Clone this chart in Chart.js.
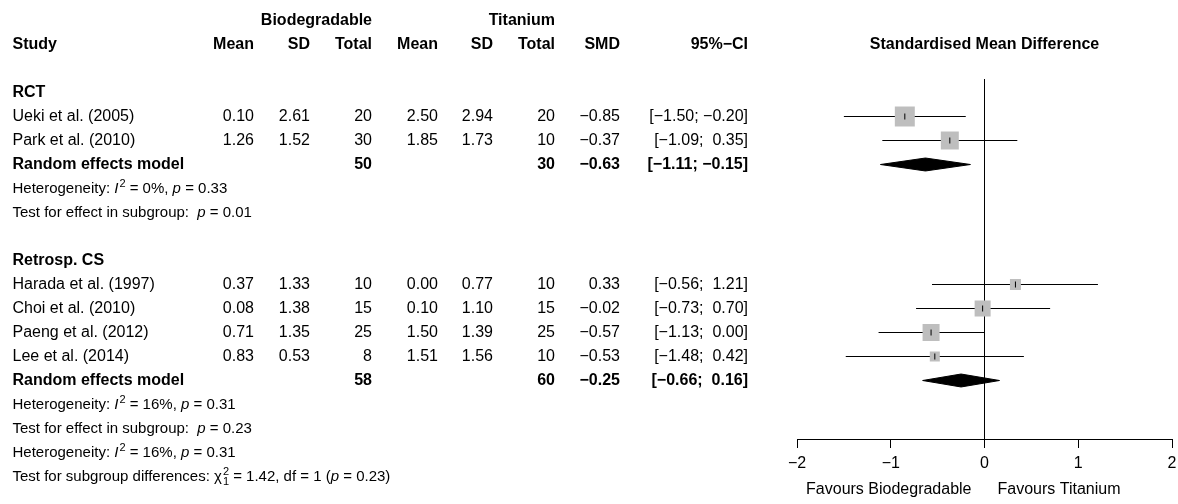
<!DOCTYPE html>
<html>
<head>
<meta charset="utf-8">
<script src="https://cdn.jsdelivr.net/npm/chart.js@4.4.1/dist/chart.umd.min.js"></script>
<style>
  html, body { margin: 0; padding: 0; background: #fff; overflow: hidden; }
  canvas { display: block; }
</style>
</head>
<body>
<canvas id="forest" width="1178" height="504"></canvas>
<script>
// study level data
const studies = ['Ueki et al. (2005)', 'Park et al. (2010)', 'Harada et al. (1997)', 'Choi et al. (2010)', 'Paeng et al. (2012)', 'Lee et al. (2014)'];
const studyGroup = [0, 0, 1, 1, 1, 1];
const bioMean = [0.10, 1.26, 0.37, 0.08, 0.71, 0.83];
const bioSD = [2.61, 1.52, 1.33, 1.38, 1.35, 0.53];
const bioN = [20, 30, 10, 15, 25, 8];
const tiMean = [2.50, 1.85, 0.00, 0.10, 1.50, 1.51];
const tiSD = [2.94, 1.73, 0.77, 1.10, 1.39, 1.56];
const tiN = [20, 10, 10, 15, 25, 10];
const smd = [-0.85, -0.37, 0.33, -0.02, -0.57, -0.53];
const ciLow = [-1.50, -1.09, -0.56, -0.73, -1.13, -1.48];
const ciHigh = [-0.20, 0.35, 1.21, 0.70, 0.00, 0.42];
const weights = [26.8, 21.7, 8.1, 17.2, 19.4, 6.7]; // % weight (estimated from square sizes)

// subgroup results
const groupNames = ['RCT', 'Retrosp. CS'];
const remBioN = [50, 58];
const remTiN = [30, 60];
const remSMD = [-0.63, -0.25];
const remLow = [-1.11, -0.66];
const remHigh = [-0.15, 0.16];
const hetI2 = ['0%', '16%'];
const hetP = ['0.33', '0.31'];
const effectP = ['0.01', '0.23'];

// overall
const overallI2 = '16%';
const overallP = '0.31';
const subChi = '1.42';
const subDf = '1';
const subP = '0.23';

const xTicks = [-2, -1, 0, 1, 2];
const labelLeft = 'Favours Biodegradable';
const labelRight = 'Favours Titanium';

// layout
const FONT = '"Liberation Sans", Arial, Helvetica, sans-serif';
const MAIN = 16, NOTE = 15, SMALL = 11;
const ROW0 = 20.5, ROWH = 24;
const TOP = 79, BOTTOM = 439;
const SQ = 3.86;       // square side = SQ * sqrt(weight)
const DH = 0.27;       // diamond half height in rows
const cols = { study: 12.5, bioMean: 254, bioSD: 310, bioN: 372, tiMean: 438, tiSD: 493, tiN: 555, smd: 620, ci: 748 };

// work out which row each line sits on
const studyRow = [], groupRow = [], remRow = [], hetRow = [], testRow = [];
let row = 3;
groupNames.forEach((g, gi) => {
  if (gi > 0) row++;
  groupRow.push(row++);
  studies.forEach((s, i) => { if (studyGroup[i] === gi) studyRow[i] = row++; });
  remRow.push(row++);
  hetRow.push(row++);
  testRow.push(row++);
});
const overallHetRow = row++;
const subTestRow = row++;

const fmt = (v, d) => (v < 0 ? '\u2212' : '') + Math.abs(v).toFixed(d);
const fmtCI = (lo, hi) => '[' + fmt(lo, 2) + '; ' + (hi < 0 ? '' : ' ') + fmt(hi, 2) + ']';

const datasets = [];
studies.forEach((s, i) => {
  datasets.push({
    type: 'line',
    data: [{ x: ciLow[i], y: studyRow[i] }, { x: ciHigh[i], y: studyRow[i] }],
    borderColor: '#000', borderWidth: 1, pointRadius: 0, order: 3
  });
});
datasets.push({
  type: 'scatter',
  data: smd.map((v, i) => ({ x: v, y: studyRow[i] })),
  pointStyle: 'rect',
  pointRadius: weights.map(w => SQ * Math.sqrt(w) / Math.SQRT2),
  backgroundColor: '#BEBEBE', borderWidth: 0, order: 2
});
datasets.push({
  type: 'scatter',
  data: smd.map((v, i) => ({ x: v, y: studyRow[i] })),
  pointStyle: 'line', rotation: 90, pointRadius: 3,
  borderColor: '#000', borderWidth: 1, order: 1
});
remSMD.forEach((m, g) => {
  const r = remRow[g];
  datasets.push({
    type: 'line',
    data: [{ x: remLow[g], y: r }, { x: m, y: r - DH }, { x: remHigh[g], y: r }, { x: m, y: r + DH }, { x: remLow[g], y: r }],
    fill: 'shape', backgroundColor: '#000', borderColor: '#000', borderWidth: 1, pointRadius: 0, order: 1
  });
});

function rich(ctx, x, y, parts) {
  let cx = x;
  ctx.textAlign = 'left';
  parts.forEach(p => {
    if (p.sup || p.sub) {
      ctx.font = SMALL + 'px ' + FONT;
      let w = 0;
      if (p.sup) { ctx.fillText(p.sup, cx + 1, y - 5); w = Math.max(w, ctx.measureText(p.sup).width); }
      if (p.sub) { ctx.fillText(p.sub, cx + 1, y + 5); w = Math.max(w, ctx.measureText(p.sub).width); }
      cx += w + 1;
    } else {
      ctx.font = (p.i ? 'italic ' : '') + NOTE + 'px ' + FONT;
      ctx.fillText(p.t, cx, y);
      cx += ctx.measureText(p.t).width;
    }
  });
}

const tablePlugin = {
  id: 'table',
  afterDraw(chart) {
    const ctx = chart.ctx;
    const ys = chart.scales.y, xs = chart.scales.x;
    const py = r => ys.getPixelForValue(r);
    const put = (s, x, r, align, bold) => {
      ctx.font = (bold ? 'bold ' : '') + MAIN + 'px ' + FONT;
      ctx.textAlign = align;
      ctx.fillText(s, x, py(r));
    };
    ctx.save();
    ctx.fillStyle = '#000';
    ctx.textBaseline = 'middle';

    // headers
    put('Biodegradable', cols.bioN, 0, 'right', true);
    put('Titanium', cols.tiN, 0, 'right', true);
    put('Study', cols.study, 1, 'left', true);
    put('Mean', cols.bioMean, 1, 'right', true);
    put('SD', cols.bioSD, 1, 'right', true);
    put('Total', cols.bioN, 1, 'right', true);
    put('Mean', cols.tiMean, 1, 'right', true);
    put('SD', cols.tiSD, 1, 'right', true);
    put('Total', cols.tiN, 1, 'right', true);
    put('SMD', cols.smd, 1, 'right', true);
    put('95%\u2212CI', cols.ci, 1, 'right', true);
    put('Standardised Mean Difference', xs.getPixelForValue(0), 1, 'center', true);

    studies.forEach((s, i) => {
      const r = studyRow[i];
      put(s, cols.study, r, 'left');
      put(bioMean[i].toFixed(2), cols.bioMean, r, 'right');
      put(bioSD[i].toFixed(2), cols.bioSD, r, 'right');
      put(String(bioN[i]), cols.bioN, r, 'right');
      put(tiMean[i].toFixed(2), cols.tiMean, r, 'right');
      put(tiSD[i].toFixed(2), cols.tiSD, r, 'right');
      put(String(tiN[i]), cols.tiN, r, 'right');
      put(fmt(smd[i], 2), cols.smd, r, 'right');
      put(fmtCI(ciLow[i], ciHigh[i]), cols.ci, r, 'right');
    });

    groupNames.forEach((g, gi) => {
      put(g, cols.study, groupRow[gi], 'left', true);
      const r = remRow[gi];
      put('Random effects model', cols.study, r, 'left', true);
      put(String(remBioN[gi]), cols.bioN, r, 'right', true);
      put(String(remTiN[gi]), cols.tiN, r, 'right', true);
      put(fmt(remSMD[gi], 2), cols.smd, r, 'right', true);
      put(fmtCI(remLow[gi], remHigh[gi]), cols.ci, r, 'right', true);
      rich(ctx, cols.study, py(hetRow[gi]), [
        { t: 'Heterogeneity: ' }, { t: 'I', i: 1 }, { sup: '2' }, { t: ' = ' + hetI2[gi] + ', ' }, { t: 'p', i: 1 }, { t: ' = ' + hetP[gi] }
      ]);
      rich(ctx, cols.study, py(testRow[gi]), [
        { t: 'Test for effect in subgroup:  ' }, { t: 'p', i: 1 }, { t: ' = ' + effectP[gi] }
      ]);
    });

    rich(ctx, cols.study, py(overallHetRow), [
      { t: 'Heterogeneity: ' }, { t: 'I', i: 1 }, { sup: '2' }, { t: ' = ' + overallI2 + ', ' }, { t: 'p', i: 1 }, { t: ' = ' + overallP }
    ]);
    rich(ctx, cols.study, py(subTestRow), [
      { t: 'Test for subgroup differences: \u03c7' }, { sup: '2', sub: subDf }, { t: ' = ' + subChi + ', df = ' + subDf + ' (' }, { t: 'p', i: 1 }, { t: ' = ' + subP + ')' }
    ]);

    // x axis labels
    const x0 = xs.getPixelForValue(0);
    ctx.font = MAIN + 'px ' + FONT;
    ctx.textAlign = 'right';
    ctx.fillText(labelLeft, x0 - 13, 490);
    ctx.textAlign = 'left';
    ctx.fillText(labelRight, x0 + 13, 490);
    ctx.restore();
  }
};

new Chart(document.getElementById('forest'), {
  type: 'scatter',
  data: { datasets },
  options: {
    responsive: false,
    animation: false,
    devicePixelRatio: 1,
    events: [],
    layout: { autoPadding: false, padding: { left: 797, right: 6, top: TOP, bottom: 0 } },
    plugins: { legend: { display: false }, tooltip: { enabled: false } },
    scales: {
      x: {
        type: 'linear', position: 'bottom', min: -2, max: 2,
        afterBuildTicks: s => { s.ticks = xTicks.map(v => ({ value: v })); },
        afterFit: s => { s.height = 504 - BOTTOM; s.paddingLeft = 0; s.paddingRight = 0; },
        ticks: {
          callback: v => fmt(v, 0),
          font: { family: FONT, size: MAIN }, color: '#000', padding: 6,
          maxRotation: 0, autoSkip: false
        },
        grid: {
          color: c => (c.tick && c.tick.value === 0 ? '#000' : 'rgba(0,0,0,0)'),
          tickColor: '#000', tickLength: 9, lineWidth: 1
        },
        border: { display: true, color: '#000', width: 1 }
      },
      y: {
        type: 'linear', display: false, reverse: true,
        min: (TOP - ROW0) / ROWH, max: (BOTTOM - ROW0) / ROWH
      }
    }
  },
  plugins: [tablePlugin]
});
</script>
</body>
</html>
